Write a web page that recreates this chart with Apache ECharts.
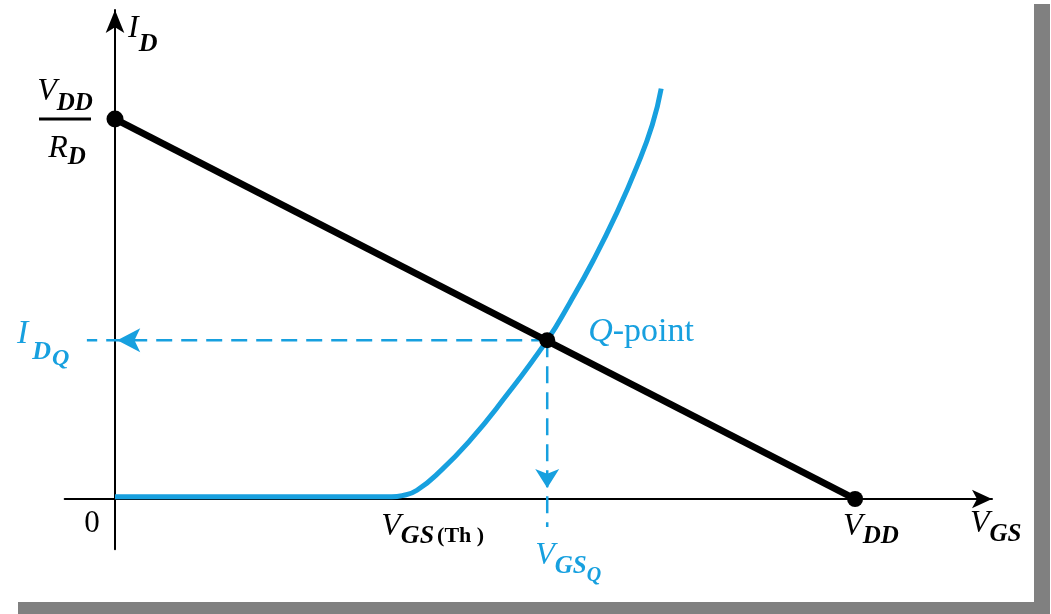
<!DOCTYPE html>
<html>
<head>
<meta charset="utf-8">
<script src="https://cdn.jsdelivr.net/npm/echarts@6/dist/echarts.min.js"></script>
<style>html,body{margin:0;padding:0;background:#fff}#c{width:1051px;height:614px}</style>
</head>
<body>
<div id="c"></div>
<script>
// ---------------- data ----------------
const vth = 3.72;                 // V_GS(Th)
const vdd = 10;                   // V_DD
const idSat = 10;                 // V_DD / R_D
const qPoint = [5.84, 4.18];      // Q-point (V_GSQ, I_DQ)
const loadLine = [[0, idSat], [vdd, 0]];
const transferCurve = [
  [0, 0.06], [3.74, 0.06], [3.88, 0.09], [4.08, 0.23], [4.42, 0.78], [4.8, 1.55],
  [5.2, 2.5], [5.84, 4.18], [6.15, 5.18], [6.46, 6.27], [6.78, 7.53],
  [7.05, 8.74], [7.26, 9.85], [7.38, 10.8]
];
const dashToIdq = [[5.84, 4.18], [-0.38, 4.18]];
const dashToVgsq = [[5.84, 4.18], [5.84, -0.74]];
const arrowTipIdq = [0.03, 4.18];
const arrowTipVgsq = [5.84, 0.29];
const xRange = [-0.68, 11.85];
const yRange = [-1.32, 12.87];
// tick labels (x axis) and their values
const xTickValues = [0, vth, qPoint[0], vdd];
const xTickLabels = ['0', 'VGS(Th)', 'VGSQ', 'VDD'];
// tick labels (y axis)
const yTickValues = [qPoint[1], idSat];
const yTickLabels = ['IDQ', 'VDD/RD'];

// ---------------- styles ----------------
const BLUE = '#17a0df';
const SERIF = '"Liberation Serif","DejaVu Serif",serif';
function st(size, opt) {
  return Object.assign({fontFamily: SERIF, fontSize: size, verticalAlign: 'top'}, opt);
}
function richFor(color) {
  const it = {fontStyle: 'italic', color};
  const sb = {fontStyle: 'italic', fontWeight: 'bold', color};
  return {
    m: st(32, it),
    mI: st(34, it),
    mQ: st(34, it),
    n: st(31, {color}),
    p: st(34, {color}),
    s13: st(25, Object.assign({padding: [13, 0, 0, 0]}, sb)),
    g13: st(26, Object.assign({padding: [12, 0, 0, 0]}, sb)),
    s14: st(25, Object.assign({padding: [14, 0, 0, 0]}, sb)),
    s15: st(25, Object.assign({padding: [15, 0, 0, 0]}, sb)),
    s12: st(25, Object.assign({padding: [12, 0, 0, 0]}, sb)),
    sId: st(26, Object.assign({padding: [18, 0, 0, 0]}, sb)),
    sD2: st(26, Object.assign({padding: [22, 0, 0, 4]}, sb)),
    qQ: st(24, Object.assign({padding: [30, 0, 0, 1]}, sb)),
    qV: st(20, Object.assign({padding: [26, 0, 0, 0]}, sb)),
    th: st(22, {fontWeight: 'bold', color, padding: [14, 0, 0, 3]}),
    bar: {width: 52, height: 3, lineHeight: 3, fontSize: 1, backgroundColor: color}
  };
}
const richBlack = richFor('#000');
const richBlue = richFor(BLUE);

// label layouts
const labelItems = [
  {value: [xTickValues[0], 0], fmt: '{n|' + xTickLabels[0] + '}', off: [-23, 9], align: 'center', rich: richBlack},
  {value: [xTickValues[1], 0], fmt: '{m|V}{g13|GS}{th|(Th )}', off: [-9, 12], align: 'left', rich: richBlack},
  {value: [xTickValues[2], 0], fmt: '{m|V}{s14|GS}{qV|Q}', off: [-12, 41], align: 'left', rich: richBlue},
  {value: [xTickValues[3], 0], fmt: '{m|V}{s13|DD}', off: [-12, 12], align: 'left', rich: richBlack},
  {value: [xRange[1], 0], fmt: '{m|V}{s14|GS}', off: [-22, 9], align: 'left', rich: richBlack},
  {value: [0, yRange[1]], fmt: '{m|I}{sId|D}', off: [13, 3], align: 'left', rich: richBlack},
  {value: [0, yTickValues[1]], fmt: '{m|V}{s15|DD}', off: [-50, -43], align: 'center', rich: richBlack},
  {value: [0, yTickValues[1]], fmt: '{bar| }', off: [-50, 0], align: 'center', va: 'middle', rich: richBlack},
  {value: [0, yTickValues[1]], fmt: '{m|R}{s12|D}', off: [-48, 14], align: 'center', rich: richBlack},
  {value: [0, yTickValues[0]], fmt: '{mI|I}{sD2|D}{qQ|Q}', off: [-98, -23], align: 'left', rich: richBlue},
  {value: qPoint, fmt: '{mQ|Q}{p|-point}', off: [41, -25], align: 'left', rich: richBlue}
];

const chart = echarts.init(document.getElementById('c'));
const axisLineBase = {lineStyle: {color: '#000', width: 2}};
chart.setOption({
  animation: false,
  backgroundColor: '#fff',
  grid: {left: 64.68, right: 59, top: 9.94, bottom: 64.84, containLabel: false},
  xAxis: {
    type: 'value', min: xRange[0], max: xRange[1],
    axisLine: Object.assign({onZero: true, symbol: ['none', 'arrow'], symbolSize: [14, 20]}, axisLineBase),
    axisTick: {show: false}, axisLabel: {show: false}, splitLine: {show: false}
  },
  yAxis: {
    type: 'value', min: yRange[0], max: yRange[1],
    axisLine: Object.assign({onZero: true, symbol: ['none', 'arrow'], symbolSize: [14, 23]}, axisLineBase),
    axisTick: {show: false}, axisLabel: {show: false}, splitLine: {show: false}
  },
  graphic: [
    {type: 'rect', shape: {x: 1034, y: 4, width: 16, height: 610}, style: {fill: '#808080'}, z: 100},
    {type: 'rect', shape: {x: 18, y: 602, width: 1032, height: 12}, style: {fill: '#808080'}, z: 100}
  ],
  series: [
    {type: 'line', data: dashToIdq, symbol: 'none', silent: true, z: 2,
     lineStyle: {color: BLUE, width: 2.5, type: [16, 9]}},
    {type: 'line', data: dashToVgsq, symbol: 'none', silent: true, z: 2,
     lineStyle: {color: BLUE, width: 2.5, type: [17, 9]}},
    {type: 'scatter', silent: true, z: 3, symbol: 'arrow',
     data: [
       {value: arrowTipIdq, symbolRotate: 90, symbolSize: [18, 23]},
       {value: arrowTipVgsq, symbolRotate: 180, symbolSize: [18, 19]}
     ],
     itemStyle: {color: BLUE, opacity: 1}},
    {type: 'line', data: transferCurve, symbol: 'none', smooth: 0.5, silent: true, z: 4,
     lineStyle: {color: BLUE, width: 5}},
    {type: 'line', data: loadLine, symbol: 'none', silent: true, z: 5,
     lineStyle: {color: '#000', width: 7}},
    {type: 'scatter', silent: true, z: 6, symbol: 'circle',
     data: [
       {value: loadLine[0], symbolSize: 17},
       {value: loadLine[1], symbolSize: 16},
       {value: qPoint, symbolSize: 16}
     ],
     itemStyle: {color: '#000', opacity: 1}},
    {type: 'scatter', silent: true, z: 10, clip: false, symbolSize: 0,
     itemStyle: {opacity: 1},
     data: labelItems.map(function (d) {
       return {
         value: d.value,
         label: {
           show: true, position: 'inside', offset: d.off,
           align: d.align, verticalAlign: d.va || 'top',
           formatter: d.fmt, rich: d.rich, opacity: 1
         }
       };
     })}
  ]
});
</script>
</body>
</html>
